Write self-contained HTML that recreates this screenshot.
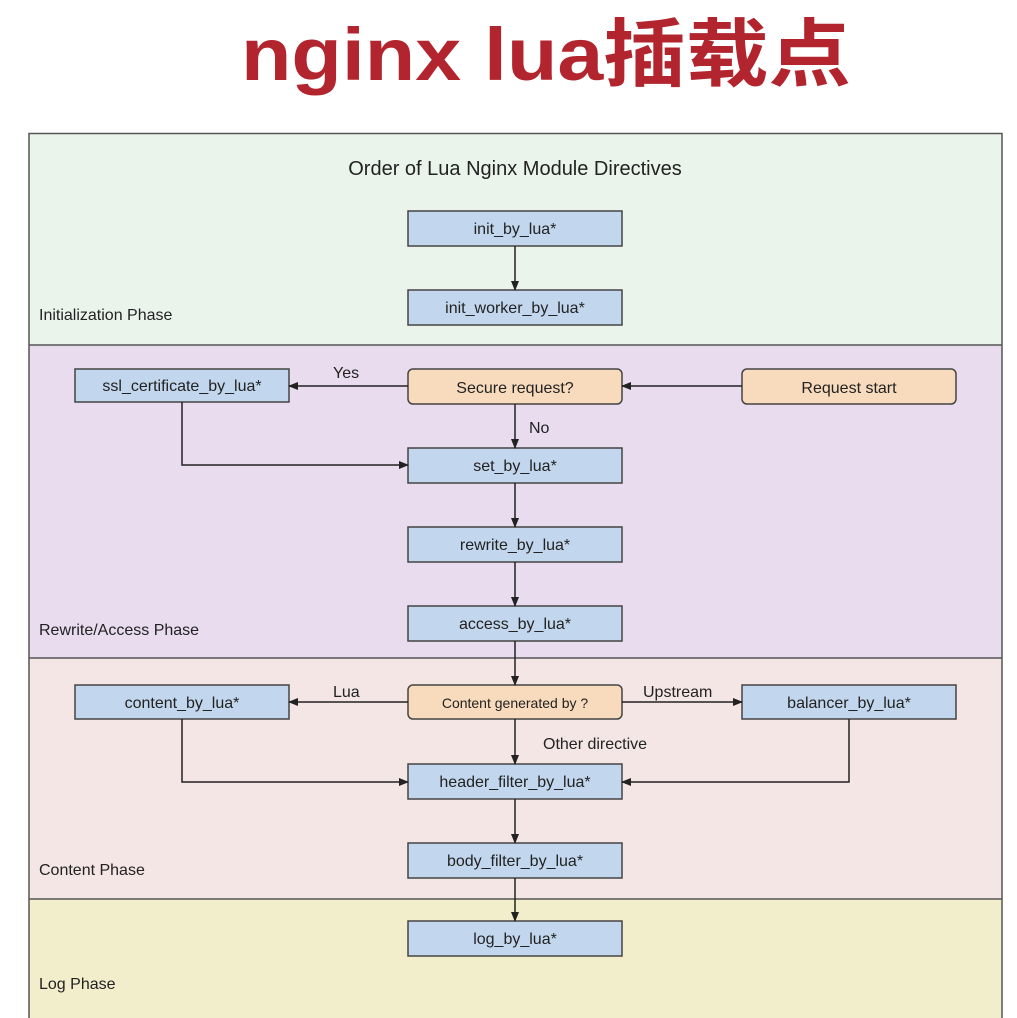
<!DOCTYPE html>
<html><head><meta charset="utf-8"><style>
html,body{margin:0;padding:0;background:#fff;width:1017px;height:1018px;overflow:hidden}
svg{display:block}
text{font-family:"Liberation Sans",sans-serif;fill:#222}
</style></head><body>
<svg width="1017" height="1018" viewBox="0 0 1017 1018">
<defs><marker id="a" markerWidth="10" markerHeight="8" refX="9" refY="4" orient="auto" markerUnits="userSpaceOnUse"><path d="M0,0 L10,4 L0,8 Z" fill="#222"/></marker></defs>
<text x="241" y="80" textLength="610" lengthAdjust="spacingAndGlyphs" style="font-family:'Liberation Sans','Noto Sans CJK SC',sans-serif;font-weight:bold;font-size:74px;fill:#b3252e">nginx lua插载点</text>
<rect x="29" y="133" width="973" height="212" fill="#eaf4ea"/>
<rect x="29" y="345" width="973" height="313" fill="#e8dcee"/>
<rect x="29" y="658" width="973" height="241" fill="#f3e6e4"/>
<rect x="29" y="899" width="973" height="125" fill="#f2eecc"/>
<g stroke="#555" stroke-width="1.5" fill="none">
<path d="M29,1018 V133.5 H1002 V1018"/>
<line x1="29" y1="345" x2="1002" y2="345"/><line x1="29" y1="658" x2="1002" y2="658"/><line x1="29" y1="899" x2="1002" y2="899"/>
</g>
<text x="515" y="175" text-anchor="middle" font-size="20">Order of Lua Nginx Module Directives</text>
<g font-size="16"><text x="39" y="320">Initialization Phase</text><text x="39" y="635">Rewrite/Access Phase</text><text x="39" y="875">Content Phase</text><text x="39" y="989">Log Phase</text></g>
<g stroke="#444" stroke-width="1.5" fill="#c2d7ed">
<rect x="408" y="211" width="214" height="35"/><rect x="408" y="290" width="214" height="35"/>
<rect x="75" y="369" width="214" height="33"/><rect x="408" y="448" width="214" height="35"/>
<rect x="408" y="527" width="214" height="35"/><rect x="408" y="606" width="214" height="35"/>
<rect x="75" y="685" width="214" height="34"/><rect x="742" y="685" width="214" height="34"/>
<rect x="408" y="764" width="214" height="35"/><rect x="408" y="843" width="214" height="35"/>
<rect x="408" y="921" width="214" height="35"/>
</g>
<g stroke="#444" stroke-width="1.5" fill="#f8dbbd">
<rect x="408" y="369" width="214" height="35" rx="5"/><rect x="742" y="369" width="214" height="35" rx="5"/><rect x="408" y="685" width="214" height="34" rx="5"/>
</g>
<g font-size="16" text-anchor="middle">
<text x="515" y="234">init_by_lua*</text><text x="515" y="313">init_worker_by_lua*</text>
<text x="182" y="391">ssl_certificate_by_lua*</text><text x="515" y="393">Secure request?</text><text x="849" y="393">Request start</text>
<text x="515" y="471">set_by_lua*</text><text x="515" y="550">rewrite_by_lua*</text><text x="515" y="629">access_by_lua*</text>
<text x="182" y="708">content_by_lua*</text><text x="515" y="708" font-size="14">Content generated by ?</text><text x="849" y="708">balancer_by_lua*</text>
<text x="515" y="787">header_filter_by_lua*</text><text x="515" y="866">body_filter_by_lua*</text><text x="515" y="944">log_by_lua*</text>
</g>
<g font-size="16"><text x="333" y="378">Yes</text><text x="529" y="433">No</text><text x="333" y="697">Lua</text><text x="643" y="697">Upstream</text><text x="543" y="749">Other directive</text></g>
<g stroke="#222" stroke-width="1.5" fill="none" marker-end="url(#a)">
<line x1="515" y1="246" x2="515" y2="290"/>
<line x1="742" y1="386" x2="622" y2="386"/>
<line x1="408" y1="386" x2="289" y2="386"/>
<line x1="515" y1="404" x2="515" y2="448"/>
<path d="M182,402 V465 H408"/>
<line x1="515" y1="483" x2="515" y2="527"/>
<line x1="515" y1="562" x2="515" y2="606"/>
<line x1="515" y1="641" x2="515" y2="685"/>
<line x1="408" y1="702" x2="289" y2="702"/>
<line x1="622" y1="702" x2="742" y2="702"/>
<line x1="515" y1="719" x2="515" y2="764"/>
<path d="M182,719 V782 H408"/>
<path d="M849,719 V782 H622"/>
<line x1="515" y1="799" x2="515" y2="843"/>
<line x1="515" y1="878" x2="515" y2="921"/>
</g>
</svg>
</body></html>
